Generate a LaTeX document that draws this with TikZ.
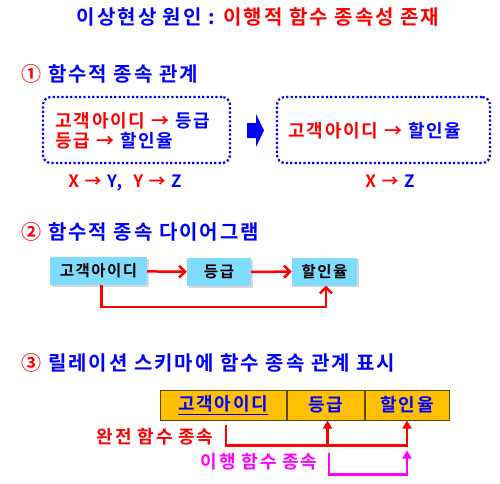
\documentclass[tikz,border=0pt]{standalone}
\usepackage{fontspec}
\setmainfont{Noto Sans CJK KR}[BoldFont={Noto Sans CJK KR Bold},LetterSpace=10]
\usepackage{xcolor}
\usetikzlibrary{arrows.meta,positioning,shadows,calc}
\definecolor{head}{HTML}{0000FF}
\definecolor{cause}{HTML}{FF0000}
\definecolor{trans}{HTML}{FF00FF}
\definecolor{attr}{HTML}{80DCFF}
\definecolor{schema}{HTML}{FFC000}
\definecolor{edge}{HTML}{5A4A00}
\begin{document}
\begin{tikzpicture}[x=1pt,y=-1pt,font=\bfseries,
  sect/.style={anchor=west,text=head,font=\bfseries\fontsize{20}{24}\selectfont},
  dotbox/.style={draw=head,line width=2.2pt,dash pattern=on 2.2pt off 2.2pt,
                 rounded corners=8pt,minimum height=66pt},
  attrbox/.style={fill=attr,minimum height=28pt,inner sep=0pt,
                  font=\bfseries\fontsize{15.5}{18}\selectfont,
                  drop shadow={shadow xshift=1.5pt,shadow yshift=-1.5pt,fill=black!30}},
  cell/.style={fill=schema,draw=edge,line width=1pt,minimum height=30pt,inner sep=0pt,
               text=head,font=\bfseries\fontsize{18}{20}\selectfont},
  dep/.style={draw=cause,line width=2.5pt,-{Straight Barb[length=6pt,width=12pt]}},
  fullln/.style={draw=cause,line width=2.5pt},
  transln/.style={draw=trans,line width=2.5pt}]
  \useasboundingbox (0,0) rectangle (500,483);
  % title
  \node[font=\bfseries\fontsize{20}{24}\selectfont] (title) at (258,17)
    {\textcolor{head}{이상현상 원인 :} \textcolor{cause}{이행적 함수 종속성 존재}};
  % 1: functional dependencies
  \node[sect] (sec1) at (18,74) {\textcolor{cause}{①} 함수적 종속 관계};
  \node[dotbox,minimum width=187pt] (given) at (136.5,130) {};
  \node[anchor=west,align=left,font=\bfseries\fontsize{18}{20}\selectfont] (givtxt) at (52,131)
    {\textcolor{cause}{고객아이디 →} \textcolor{head}{등급}\\
     \textcolor{cause}{등급 →} \textcolor{head}{할인율}};
  \node[font=\bfseries\fontsize{17}{20}\selectfont] (givsym) at (125,183)
    {\textcolor{cause}{X →} \textcolor{head}{Y,}\ \ \textcolor{cause}{Y →} \textcolor{head}{Z}};
  \fill[head] (247,123) -- (256,123) -- (256,114) -- (264,130.5) -- (256,147)
    -- (256,138) -- (247,138) -- cycle;
  \node[dotbox,minimum width=213pt] (derived) at (383.5,130) {};
  \node[font=\bfseries\fontsize{18}{20}\selectfont] (dertxt) at (375,131)
    {\textcolor{cause}{고객아이디 →} \textcolor{head}{할인율}};
  \node[font=\bfseries\fontsize{17}{20}\selectfont] (dersym) at (390,181)
    {\textcolor{cause}{X →} \textcolor{head}{Z}};
  % 2: dependency diagram
  \node[sect] (sec2) at (18,232) {\textcolor{cause}{②} 함수적 종속 다이어그램};
  \node[attrbox,minimum width=97pt] (cid) at (98.5,271) {고객아이디};
  \node[attrbox,minimum width=64pt] (grade) at (219,272) {등급};
  \node[attrbox,minimum width=65pt] (rate) at (324.5,271.5) {할인율};
  \draw[dep] (cid) -- (grade);
  \draw[dep] (grade) -- (rate);
  \draw[dep] ([xshift=3pt]cid.south) -- ++(0,22) -| ([xshift=1.5pt]rate.south);
  % 3: relation schema
  \node[sect] (sec3) at (18,363) {\textcolor{cause}{③} 릴레이션 스키마에 함수 종속 관계 표시};
  \node[cell,minimum width=126pt] (t1) at (223,405) {\underline{고객아이디}};
  \node[cell,minimum width=77pt,right=0pt of t1] (t2) {등급};
  \node[cell,minimum width=84pt,right=0pt of t2] (t3) {할인율};
  \node[anchor=east,text=cause,font=\bfseries\fontsize{18}{20}\selectfont] (fulllbl) at (217,437) {완전 함수 종속};
  \node[anchor=east,text=trans,font=\bfseries\fontsize{18}{20}\selectfont] (translbl) at (321,462) {이행 함수 종속};
  \coordinate (fs) at ([xshift=3pt,yshift=-4pt]t1.south);
  \coordinate (fb) at ($(fs)+(0,21)$);
  \coordinate (t2b) at ([xshift=2pt]t2.south);
  \draw[fullln,-{Triangle[length=8pt,width=9pt]}] (fs) -- (fb) -| (t3.south);
  \draw[fullln,-{Triangle[length=8pt,width=9pt]}] (fb -| t2b) -- (t2b);
  \coordinate (ts) at ([xshift=3.5pt,yshift=-32pt]t2.south);
  \coordinate (te) at ([yshift=-30pt]t3.south);
  \draw[transln,-{Triangle[length=8pt,width=9pt]}] (ts) -- ++(0,22) -| (te);
\end{tikzpicture}
\end{document}
